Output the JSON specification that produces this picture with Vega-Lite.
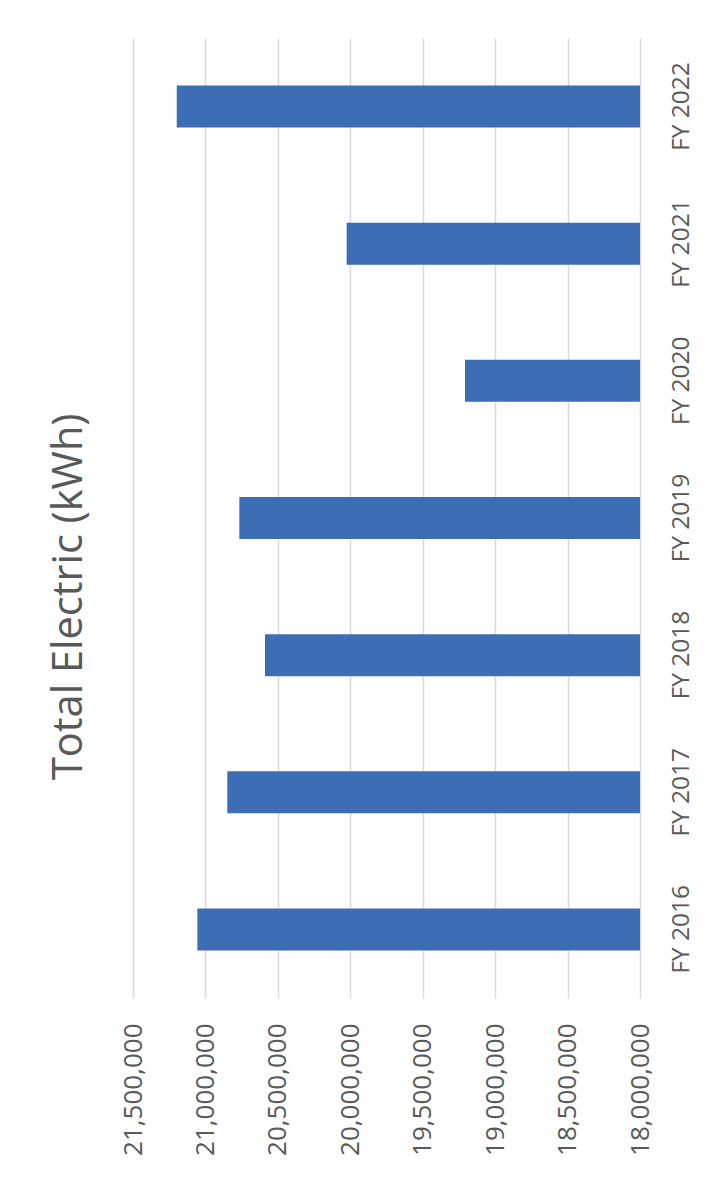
{
  "$schema": "https://vega.github.io/schema/vega-lite/v6.json",
  "autosize": "none",
  "width": 507,
  "height": 960,
  "padding": {"left": 133, "top": 38, "right": 68, "bottom": 181},
  "background": "white",
  "title": {
    "text": "Total Electric (kWh)",
    "orient": "left",
    "anchor": "middle",
    "frame": "bounds",
    "font": "Open Sans",
    "fontSize": 41.5,
    "fontWeight": "normal",
    "color": "#595959",
    "offset": 30
  },
  "data": {
    "values": [
      {"year": "FY 2016", "kwh": 21056000},
      {"year": "FY 2017", "kwh": 20849000},
      {"year": "FY 2018", "kwh": 20589000},
      {"year": "FY 2019", "kwh": 20766000},
      {"year": "FY 2020", "kwh": 19208000},
      {"year": "FY 2021", "kwh": 20025000},
      {"year": "FY 2022", "kwh": 21198000}
    ]
  },
  "mark": {"type": "bar", "color": "#3C6DB5", "clip": true},
  "encoding": {
    "y": {
      "field": "year",
      "type": "nominal",
      "sort": "descending",
      "scale": {"paddingInner": 0.694, "paddingOuter": 0.347},
      "axis": {
        "orient": "right",
        "title": null,
        "labelAngle": -90,
        "labelAlign": "center",
        "labelBaseline": "top",
        "labelPadding": 29,
        "labelFont": "Open Sans",
        "labelFontSize": 24.5,
        "labelColor": "#595959",
        "domain": false,
        "ticks": false,
        "grid": false
      }
    },
    "x": {
      "field": "kwh",
      "type": "quantitative",
      "scale": {"domain": [18000000, 21500000], "reverse": true, "zero": false, "nice": false},
      "axis": {
        "title": null,
        "values": [18000000, 18500000, 19000000, 19500000, 20000000, 20500000, 21000000, 21500000],
        "format": ",d",
        "labelAngle": -90,
        "labelAlign": "right",
        "labelBaseline": "middle",
        "labelPadding": 25,
        "labelFont": "Open Sans",
        "labelFontSize": 26,
        "labelColor": "#595959",
        "labelOverlap": false,
        "domain": false,
        "ticks": false,
        "grid": true,
        "gridColor": "#D9D9D9",
        "gridWidth": 1.5
      }
    }
  },
  "config": {"view": {"stroke": null}}
}
